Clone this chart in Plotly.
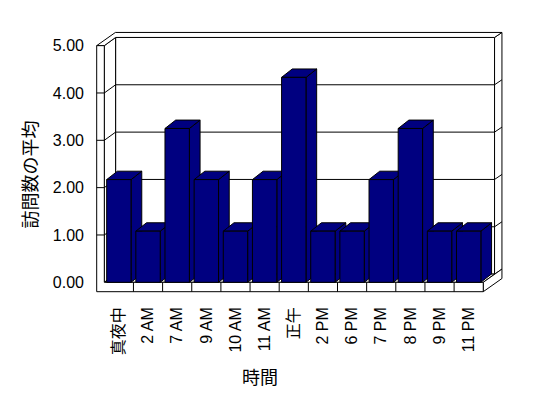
import plotly.graph_objects as go

# ---------------- data ----------------
categories = ["真夜中", "2 AM", "7 AM", "9 AM", "10 AM", "11 AM", "正午",
              "2 PM", "6 PM", "7 PM", "8 PM", "9 PM", "11 PM"]
values = [2.17, 1.08, 3.25, 2.17, 1.08, 2.17, 4.33, 1.08, 1.08, 2.17, 3.25, 1.08, 1.08]
y_ticks = [0, 1, 2, 3, 4, 5]
y_title = "訪問数の平均"
x_title = "時間"

# ---------------- layout geometry ----------------
W, H = 548, 398
PLOT_L, PLOT_R, PLOT_T, PLOT_B = 95, 506, 28, 295
PX_CAT = 29.15          # pixels per category
X0_PX = 104.3           # pixel of category edge -0.5
PX_VAL = 47.33          # pixels per value unit (front plane)
Y0_PX = 282.3           # pixel of value 0 (front plane)

x_range = [-0.5 + (PLOT_L - X0_PX) / PX_CAT, -0.5 + (PLOT_R - X0_PX) / PX_CAT]
y_range = [-(PLOT_B - Y0_PX) / PX_VAL, (Y0_PX - PLOT_T) / PX_VAL]

# 3D styling (in data units)
DX, DY = 11.3 / PX_CAT, 8.2 / PX_VAL      # depth offset of chart box
BX, BY = 7.4 / PX_CAT, 5.0 / PX_VAL       # back wall thickness
TW = 7.6 / PX_CAT                          # left wall thickness
TF = 9.4 / PX_VAL                          # floor thickness
BAR_HALF = 0.4185
BDX, BDY = 10.7 / PX_CAT, 8.4 / PX_VAL     # bar depth offset

n = len(categories)
x0, x1 = -0.5, n - 0.5
xo = x0 - TW
top = y_ticks[-1]

NAVY = "#000080"
fig = go.Figure()


def poly(xs, ys, fill="white"):
    fig.add_trace(go.Scatter(x=xs + [xs[0]], y=ys + [ys[0]], mode="lines",
                             fill="toself", fillcolor=fill,
                             line=dict(color="black", width=1),
                             hoverinfo="skip", showlegend=False))


def segs(xs, ys):
    fig.add_trace(go.Scatter(x=xs, y=ys, mode="lines",
                             line=dict(color="black", width=1),
                             hoverinfo="skip", showlegend=False))


# back wall front face
poly([x0 + DX, x1 + DX, x1 + DX, x0 + DX], [DY, DY, top + DY, top + DY])
# left wall inner face
poly([x0, x0 + DX, x0 + DX, x0], [0, DY, top + DY, top])
# floor top face
poly([x0, x1, x1 + DX, x0 + DX], [0, 0, DY, DY])
# back wall right side face
poly([x1 + DX, x1 + DX + BX, x1 + DX + BX, x1 + DX],
     [DY, DY + BY, top + DY + BY, top + DY])
# floor right side face
poly([x1, x1 + DX + BX, x1 + DX + BX, x1 + DX, x1],
     [-TF, -TF + DY + BY, DY + BY, DY, 0])
# top faces (left wall + back wall)
poly([xo, x0, x0 + DX, x1 + DX, x1 + DX + BX, xo + DX + BX],
     [top, top, top + DY, top + DY, top + DY + BY, top + DY + BY])
# front L face (left wall front + floor front)
poly([xo, x1, x1, x0, x0, xo], [-TF, -TF, 0, 0, top, top])

# gridlines & ticks
gx, gy = [], []
for v in y_ticks[1:-1]:
    gx += [xo, x0, x0 + DX, x1 + DX, x1 + DX + BX, None]
    gy += [v, v, v + DY, v + DY, v + DY + BY, None]
for k in range(1, n):
    gx += [x0 + k, x0 + k, None]
    gy += [-TF, 0, None]
segs(gx, gy)

# bars
for i, v in enumerate(values):
    xl, xr = i - BAR_HALF, i + BAR_HALF
    poly([xr, xr + BDX, xr + BDX, xr], [0, BDY, v + BDY, v], NAVY)      # side
    poly([xl, xr, xr + BDX, xl + BDX], [v, v, v + BDY, v + BDY], NAVY)  # top
    poly([xl, xr, xr, xl], [0, 0, v, v], NAVY)                          # front

FONT = "Liberation Sans, Noto Sans CJK JP, sans-serif"
TFONT = dict(family=FONT, size=16, color="black")

fig.update_layout(
    width=W, height=H,
    margin=dict(l=PLOT_L, r=W - PLOT_R, t=PLOT_T, b=H - PLOT_B, pad=0),
    paper_bgcolor="white", plot_bgcolor="white",
    font=dict(family=FONT, size=16, color="black"),
    showlegend=False,
    xaxis=dict(range=x_range, tickmode="array", tickvals=list(range(n)),
               ticktext=categories, tickangle=-90, showgrid=False,
               zeroline=False, showline=False, ticks="", ticklabelstandoff=8,
               tickfont=TFONT, fixedrange=True),
    yaxis=dict(range=y_range, tickmode="array", tickvals=y_ticks,
               ticktext=[f"{t:.2f}" for t in y_ticks], showgrid=False,
               zeroline=False, showline=False, ticks="", ticklabelstandoff=10,
               tickfont=TFONT, fixedrange=True),
    annotations=[
        dict(text=y_title, textangle=-90, xref="paper", yref="paper",
             x=(28.5 - PLOT_L) / (PLOT_R - PLOT_L),
             y=(PLOT_B - 175) / (PLOT_B - PLOT_T),
             xanchor="center", yanchor="middle", showarrow=False,
             font=dict(size=18, family="Noto Sans CJK JP", color="black")),
        dict(text=x_title, xref="paper", yref="paper",
             x=(259.5 - PLOT_L) / (PLOT_R - PLOT_L),
             y=(PLOT_B - 375.5) / (PLOT_B - PLOT_T),
             xanchor="center", yanchor="middle", showarrow=False,
             font=dict(size=18, family="Noto Sans CJK JP", color="black")),
    ],
)

fig.write_html("out.html")
